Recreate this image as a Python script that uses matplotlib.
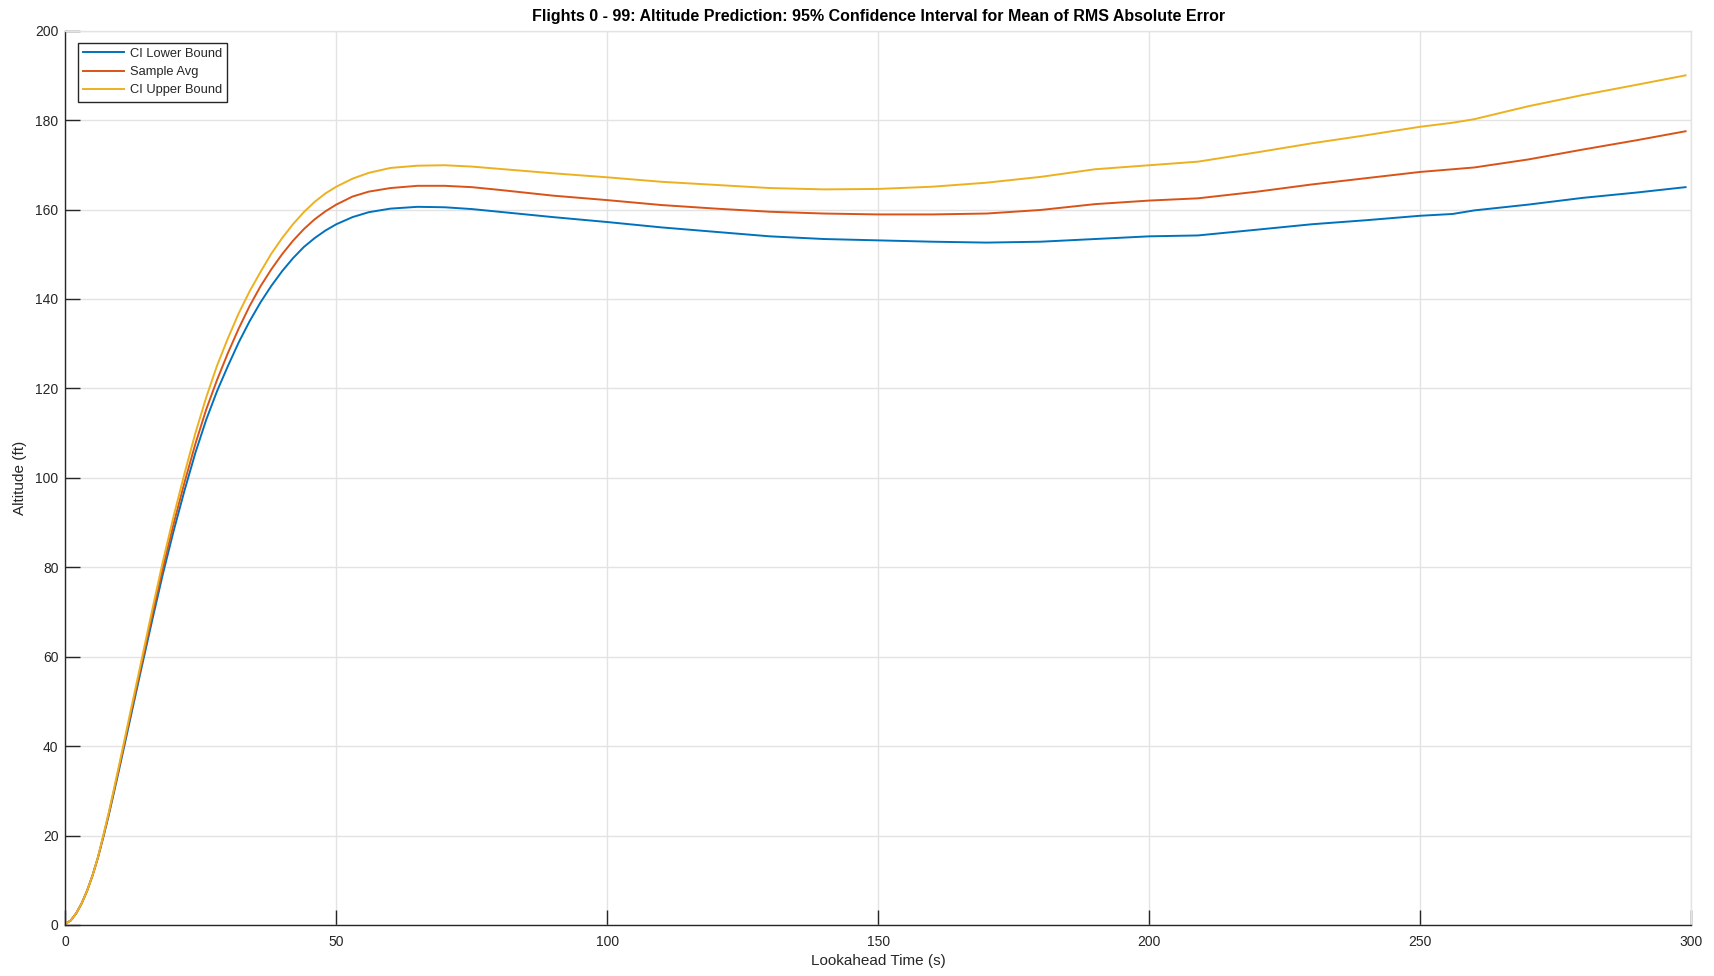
import numpy as np
import matplotlib
matplotlib.use("Agg")
import matplotlib.pyplot as plt

plt.rcParams['font.family'] = ['Liberation Sans', 'DejaVu Sans']

# lookahead time (s)
t = [0, 1, 2, 3, 4, 5, 6, 7, 8, 9, 10, 12, 14, 16, 18, 20, 22, 24, 26, 28,
     30, 32, 34, 36, 38, 40, 42, 44, 46, 48, 50, 53, 56, 60, 65, 70, 75, 80,
     90, 100, 110, 120, 130, 140, 150, 160, 170, 180, 190, 200, 209, 220, 230,
     240, 250, 256, 260, 270, 280, 290, 299]

ci_lower = [0.3, 1.0, 2.6, 4.8, 7.6, 11.0, 15.0, 19.6, 24.5, 29.8, 35.2, 46.2,
            57.2, 68.0, 78.5, 88.2, 97.2, 105.6, 113.0, 119.4, 125.0, 130.3,
            135.0, 139.2, 142.9, 146.2, 149.1, 151.6, 153.6, 155.3, 156.7, 158.3,
            159.4, 160.2, 160.6, 160.5, 160.1, 159.5, 158.3, 157.2, 156.0, 155.0,
            154.0, 153.4, 153.1, 152.8, 152.6, 152.8, 153.4, 154.0, 154.2, 155.5,
            156.7, 157.6, 158.6, 159.0, 159.8, 161.1, 162.6, 163.8, 165.0]

sample_avg = [0.3, 1.0, 2.6, 4.8, 7.6, 11.0, 15.0, 19.8, 24.8, 30.2, 35.7, 46.9,
              58.0, 69.1, 79.8, 89.8, 99.0, 107.6, 115.3, 121.9, 127.9, 133.4,
              138.4, 142.8, 146.6, 150.0, 153.0, 155.6, 157.8, 159.6, 161.1, 162.9,
              164.0, 164.8, 165.3, 165.3, 165.0, 164.4, 163.1, 162.1, 161.0, 160.2,
              159.5, 159.1, 158.9, 158.9, 159.1, 159.9, 161.2, 162.0, 162.5, 164.0,
              165.6, 167.0, 168.4, 169.0, 169.4, 171.2, 173.4, 175.5, 177.5]

ci_upper = [0.3, 1.0, 2.6, 4.8, 7.6, 11.0, 15.1, 20.0, 25.1, 30.6, 36.2, 47.6,
            58.9, 70.3, 81.3, 91.5, 101.0, 110.0, 118.0, 125.1, 131.2, 136.8,
            141.7, 146.0, 150.1, 153.6, 156.7, 159.4, 161.7, 163.6, 165.1, 166.9,
            168.2, 169.3, 169.8, 169.9, 169.6, 169.1, 168.1, 167.2, 166.2, 165.5,
            164.8, 164.5, 164.6, 165.1, 166.0, 167.3, 169.0, 169.9, 170.7, 172.8,
            174.8, 176.6, 178.5, 179.4, 180.2, 183.1, 185.6, 187.9, 190.0]

labels = ['CI Lower Bound', 'Sample Avg', 'CI Upper Bound']
colors = ['#0072BD', '#D95319', '#EDB120']

dark = '#262626'
gridc = '#e3e3e3'

fig = plt.figure(figsize=(17.15, 9.76), dpi=100)
ax = fig.add_axes([0.0381, 0.0523, 0.9479, 0.9163])

for y, lab, c in zip([ci_lower, sample_avg, ci_upper], labels, colors):
    ax.plot(t, y, color=c, lw=1.4, label=lab, solid_joinstyle='round')

ax.set_xlim(0, 300)
ax.set_ylim(0, 200)
ax.set_xticks(np.arange(0, 301, 50))
ax.set_yticks(np.arange(0, 201, 20))
ax.grid(True, color=gridc, lw=1.0)
ax.set_axisbelow(True)

for side in ['left', 'bottom']:
    ax.spines[side].set_color(dark)
    ax.spines[side].set_linewidth(1.0)
for side in ['top', 'right']:
    ax.spines[side].set_color(gridc)
    ax.spines[side].set_linewidth(1.0)

ax.tick_params(axis='both', direction='in', length=11, width=1.0, color=dark,
               labelcolor=dark, labelsize=10, top=False, right=False)
ax.tick_params(axis='x', pad=7)
ax.tick_params(axis='y', pad=5)

ax.set_xlabel('Lookahead Time (s)', fontsize=11, color=dark, labelpad=4)
ax.set_ylabel('Altitude (ft)', fontsize=11, color=dark, labelpad=6)
ax.set_title('Flights 0 - 99: Altitude Prediction: 95% Confidence Interval for Mean of RMS Absolute Error',
             fontsize=11.5, fontweight='bold', color='black', pad=7)

leg = ax.legend(loc='upper left', bbox_to_anchor=(0.0076, 0.9865), borderaxespad=0,
                fontsize=9.3, handlelength=3.2, handletextpad=0.45, labelspacing=0.48,
                borderpad=0.4, fancybox=False, framealpha=1)
leg.get_frame().set_edgecolor(dark)
leg.get_frame().set_linewidth(1.0)
for txt in leg.get_texts():
    txt.set_color(dark)

fig.savefig('out.png', dpi=100)
